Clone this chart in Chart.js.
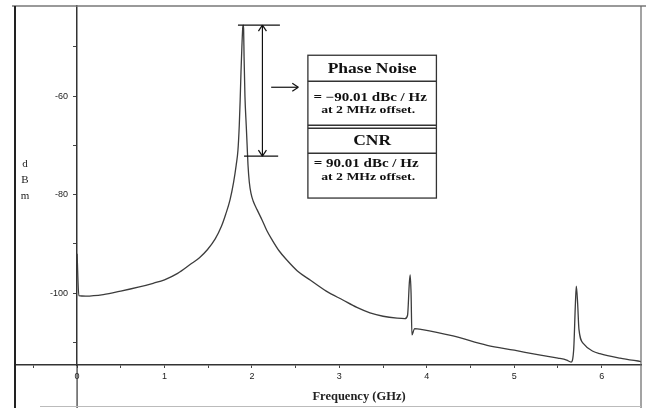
<!DOCTYPE html>
<html>
<head>
<meta charset="utf-8">
<script src="https://cdn.jsdelivr.net/npm/chart.js@4/dist/chart.umd.min.js"></script>
<style>
  html, body { margin: 0; padding: 0; background: #fff; }
</style>
</head>
<body>
<canvas id="chart" width="658" height="408"></canvas>
<script>
// spectrum (GHz, dBm)
const freqGHz = [
  0.00, 0.02, 0.10, 0.30, 0.50, 0.70, 0.87, 1.00, 1.15, 1.30, 1.40, 1.49, 1.58, 1.65, 1.70,
  1.75, 1.79, 1.82, 1.84, 1.855, 1.865, 1.875, 1.885, 1.895, 1.90, 1.905, 1.91, 1.92, 1.935,
  1.945, 1.955, 1.97, 1.99, 2.014, 2.06, 2.117, 2.17, 2.231, 2.31, 2.40, 2.52, 2.67, 2.85, 3.04, 3.20,
  3.35, 3.50, 3.66, 3.75, 3.78, 3.80, 3.81, 3.82, 3.83, 3.86, 3.95, 4.30, 4.69, 5.00, 5.30,
  5.50, 5.60, 5.65, 5.68, 5.70, 5.71, 5.725, 5.74, 5.80, 5.90, 5.98, 6.21, 6.45
];
const levelDbm = [
  -92.0, -100.5, -100.6, -100.3, -99.6, -98.8, -98.0, -97.3, -96.0, -94.1, -92.8, -91.2, -89.0, -86.5, -84.0,
  -81.0, -77.5, -74.0, -71.0, -66.0, -61.0, -55.0, -50.0, -46.0, -45.6, -46.5, -52.0, -60.0, -66.0,
  -70.0, -74.0, -77.5, -79.8, -81.3, -83.1, -85.2, -87.3, -89.2, -91.4, -93.3, -95.5, -97.4, -99.6, -101.4, -102.9,
  -104.0, -104.7, -105.1, -105.2, -104.5, -98.0, -96.3, -100.0, -108.5, -107.2, -107.4, -108.7, -110.6, -111.6, -112.6,
  -113.2, -113.6, -114.0, -111.5, -102.0, -98.6, -102.0, -107.3, -110.4, -111.8, -112.3, -113.2, -113.9
];

const xLabelled = [0, 1, 2, 3, 4, 5, 6];
const yLabelled = [-100, -80, -60];
const xTitle = 'Frequency (GHz)';
const yTitle = ['d', 'B', 'm'];

// marker: carrier peak level down to the offset level
const markTop = -45.6;
const markBottom = -72.2;
const boxTitles = ['Phase Noise', 'CNR'];
const boxLines = [
  ['= \u221290.01 dBc / Hz', 'at 2 MHz offset.'],
  ['= 90.01 dBc / Hz', 'at 2 MHz offset.']
];

function wideText(ctx, text, cx, cy, font, sx) {
  ctx.save();
  ctx.translate(cx, cy);
  ctx.scale(sx, 1);
  ctx.font = font;
  ctx.textAlign = 'center';
  ctx.textBaseline = 'middle';
  ctx.fillText(text, 0, 0);
  ctx.restore();
}

function line(ctx, x1, y1, x2, y2) {
  ctx.beginPath();
  ctx.moveTo(x1, y1);
  ctx.lineTo(x2, y2);
  ctx.stroke();
}

const framePlugin = {
  id: 'frame',
  afterDraw(chart) {
    const { ctx, chartArea: a, scales: { x, y } } = chart;
    const H = chart.height;
    ctx.save();

    // table-like frame
    ctx.strokeStyle = '#777';
    ctx.lineWidth = 1.5;
    line(ctx, 12, a.top, chart.width - 12, a.top);
    ctx.strokeStyle = '#222';
    ctx.lineWidth = 2;
    line(ctx, a.left, a.top, a.left, H);
    ctx.strokeStyle = '#666';
    ctx.lineWidth = 1.2;
    line(ctx, a.right, a.top, a.right, H);
    ctx.strokeStyle = '#333';
    line(ctx, x.getPixelForValue(0), a.bottom, x.getPixelForValue(0), H);
    ctx.strokeStyle = '#bbb';
    line(ctx, 40, H - 1.5, a.right, H - 1.5);

    // titles
    ctx.fillStyle = '#222';
    ctx.font = '11px "Liberation Serif"';
    ctx.textAlign = 'center';
    ctx.textBaseline = 'middle';
    yTitle.forEach((ch, i) => ctx.fillText(ch, a.left + 10, 164 + i * 16));
    ctx.font = 'bold 12.5px "Liberation Serif"';
    ctx.fillText(xTitle, (x.getPixelForValue(0) + a.right) / 2, 397);

    // peak-to-offset marker
    const yt = y.getPixelForValue(markTop);
    const yb = y.getPixelForValue(markBottom);
    const xv = x.getPixelForValue(2.12);
    ctx.strokeStyle = '#111';
    ctx.lineWidth = 1.2;
    line(ctx, x.getPixelForValue(1.84), yt, x.getPixelForValue(2.32), yt);
    line(ctx, x.getPixelForValue(1.91), yb, x.getPixelForValue(2.30), yb);
    line(ctx, xv, yt, xv, yb);
    line(ctx, xv - 4, yt + 6, xv, yt);
    line(ctx, xv + 4, yt + 6, xv, yt);
    line(ctx, xv - 4, yb - 6, xv, yb);
    line(ctx, xv + 4, yb - 6, xv, yb);

    // arrow to box
    const ya = y.getPixelForValue(-58.2);
    const x1 = x.getPixelForValue(2.22), x2 = x.getPixelForValue(2.53);
    line(ctx, x1, ya, x2, ya);
    line(ctx, x2 - 6, ya - 4, x2, ya);
    line(ctx, x2 - 6, ya + 4, x2, ya);

    // result box
    const bl = x.getPixelForValue(2.64), br = x.getPixelForValue(4.11);
    const bt = y.getPixelForValue(-51.7), bb = y.getPixelForValue(-80.7);
    const cx = (bl + br) / 2 - 2;
    ctx.strokeStyle = '#333';
    ctx.lineWidth = 1.3;
    ctx.strokeRect(bl, bt, br - bl, bb - bt);
    line(ctx, bl, bt + 26, br, bt + 26);
    line(ctx, bl, bt + 70, br, bt + 70);
    line(ctx, bl, bt + 73, br, bt + 73);
    line(ctx, bl, bt + 98, br, bt + 98);

    ctx.fillStyle = '#111';
    wideText(ctx, boxTitles[0], cx + 2, bt + 14, 'bold 14px "Liberation Serif"', 1.25);
    wideText(ctx, boxLines[0][0], cx, bt + 43, 'bold 12px "Liberation Serif"', 1.25);
    wideText(ctx, boxLines[0][1], cx - 2, bt + 55, 'bold 11px "Liberation Serif"', 1.25);
    wideText(ctx, boxTitles[1], cx + 2, bt + 86, 'bold 14px "Liberation Serif"', 1.25);
    wideText(ctx, boxLines[1][0], cx - 4, bt + 109, 'bold 12px "Liberation Serif"', 1.25);
    wideText(ctx, boxLines[1][1], cx - 2, bt + 122, 'bold 11px "Liberation Serif"', 1.25);

    ctx.restore();
  }
};

function noPad(s) {
  s.paddingLeft = 0;
  s.paddingRight = 0;
  s.paddingTop = 0;
  s.paddingBottom = 0;
}

new Chart(document.getElementById('chart'), {
  type: 'line',
  data: {
    datasets: [{
      data: freqGHz.map((f, i) => ({ x: f, y: levelDbm[i] })),
      borderColor: '#3c3c3c',
      borderWidth: 1.3,
      pointRadius: 0,
      cubicInterpolationMode: 'monotone',
      fill: false
    }]
  },
  options: {
    responsive: false,
    animation: false,
    devicePixelRatio: 1,
    layout: { padding: { left: 15, right: 17, top: 6, bottom: 0 } },
    plugins: { legend: { display: false }, tooltip: { enabled: false } },
    scales: {
      x: {
        type: 'linear',
        position: 'bottom',
        min: -0.71,
        max: 6.45,
        grid: { drawOnChartArea: false, drawTicks: true, tickLength: 3, color: '#444' },
        border: { display: true, color: '#333', width: 1.5 },
        ticks: {
          stepSize: 0.5,
          includeBounds: false,
          autoSkip: false,
          maxRotation: 0,
          padding: 3,
          color: '#222',
          font: { family: 'Liberation Sans', size: 9 },
          callback: v => (xLabelled.includes(v) ? String(v) : '')
        },
        afterFit: s => { s.height = 43; noPad(s); }
      },
      y: {
        type: 'linear',
        position: { x: 0 },
        min: -114.6,
        max: -41.7,
        grid: { drawOnChartArea: false, drawTicks: true, tickLength: 3, color: '#444' },
        border: { display: true, color: '#333', width: 1.5 },
        ticks: {
          stepSize: 10,
          includeBounds: false,
          autoSkip: false,
          color: '#222',
          font: { family: 'Liberation Sans', size: 9 },
          // axis sits at x = 0 inside the plot, so keep the label clear of the line
          callback: v => (yLabelled.includes(v) ? String(v) + '\u2002\u2002' : '')
        },
        afterFit: noPad
      }
    }
  },
  plugins: [framePlugin]
});
</script>
</body>
</html>
